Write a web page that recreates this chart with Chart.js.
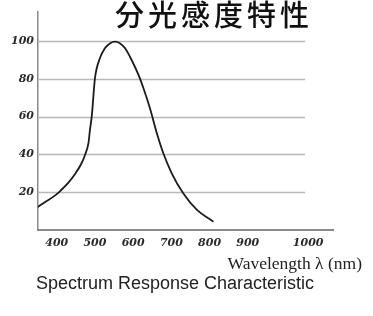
<!DOCTYPE html>
<html>
<head>
<meta charset="utf-8">
<script src="https://cdn.jsdelivr.net/npm/chart.js@4"></script>
<style>
    html, body { margin: 0; padding: 0; background: #fff; }
    #wrap { position: relative; width: 373px; height: 316px; overflow: hidden; }
    #chart { position: absolute; left: 0; top: 0; }
    .title-jp {
        position: absolute; left: 115px; top: -1px; white-space: nowrap;
        font-family: "Noto Sans CJK JP", sans-serif; font-weight: 500;
        font-size: 29px; line-height: 29px; letter-spacing: 4px; color: #111;
    }
    .x-label {
        position: absolute; right: 11px; top: 255px; white-space: nowrap;
        font-family: "Liberation Serif", serif; font-size: 17.5px; line-height: 17px; color: #222;
    }
    .caption {
        position: absolute; left: 36px; top: 274px; white-space: nowrap;
        font-family: "Liberation Sans", sans-serif; font-size: 18px; line-height: 18px; color: #222;
    }
</style>
</head>
<body>
<div id="wrap">
    <canvas id="chart" width="373" height="316"></canvas>
    <div class="title-jp">分光感度特性</div>
    <div class="x-label">Wavelength λ (nm)</div>
    <div class="caption">Spectrum Response Characteristic</div>
</div>
<script>
// wavelength (nm) / relative response (%)
const wavelengths = [349, 369, 396, 409, 430, 448, 465, 474, 483, 487, 492, 500, 513, 526, 540, 553, 565, 579, 596, 614, 627, 644, 662, 679, 701, 731, 767, 810];
const response    = [12.0, 14.7, 18.3, 20.6, 24.9, 29.6, 35.3, 39.7, 45.9, 52.9, 60.8, 80.2, 90.8, 96.1, 98.8, 99.6, 98.8, 96.1, 89.9, 82, 75, 64.4, 51.2, 40.6, 30, 19.4, 10.6, 4.4];

// the original places "1000" off the regular spacing
const xTickValues = [400, 500, 600, 700, 800, 900, 1058];
const xTickLabels = ['400', '500', '600', '700', '800', '900', '1000'];
const yTickValues = [20, 40, 60, 80, 100];

const tickFont = { family: '"DejaVu Serif", serif', size: 11, style: 'italic', weight: 'bold' };

// horizontal grid lines stop short of the x axis end
const gridPlugin = {
    id: 'shortGrid',
    beforeDatasetsDraw(chart) {
        const { ctx, scales: { x, y } } = chart;
        const x0 = chart.chartArea.left;
        const x1 = x.getPixelForValue(1050);
        ctx.save();
        ctx.strokeStyle = '#b9b9b9';
        ctx.lineWidth = 1.5;
        yTickValues.forEach(v => {
            const py = Math.round(y.getPixelForValue(v)) + 0.5;
            ctx.beginPath();
            ctx.moveTo(x0, py);
            ctx.lineTo(x1, py);
            ctx.stroke();
        });
        ctx.restore();
    }
};

new Chart(document.getElementById('chart'), {
    type: 'line',
    data: {
        datasets: [{
            data: wavelengths.map((w, i) => ({ x: w, y: response[i] })),
            borderColor: '#1b1b1b',
            borderWidth: 1.8,
            pointRadius: 0,
            fill: false,
            cubicInterpolationMode: 'monotone'
        }]
    },
    options: {
        responsive: false,
        animation: false,
        layout: { padding: { top: 12, right: 40, left: 0, bottom: 0 } },
        plugins: {
            legend: { display: false },
            tooltip: { enabled: false }
        },
        scales: {
            x: {
                type: 'linear',
                min: 351,
                max: 1123,
                grid: { display: false, drawTicks: false },
                border: { display: true, color: '#8a8a8a', width: 2 },
                afterBuildTicks: s => { s.ticks = xTickValues.map(v => ({ value: v })); },
                afterFit: s => { s.height = 86; },
                ticks: {
                    autoSkip: false,
                    maxRotation: 0,
                    padding: 7,
                    color: '#2a2a2a',
                    font: tickFont,
                    callback: (v, i) => xTickLabels[i]
                }
            },
            y: {
                min: 0,
                max: 115.3,
                grid: { display: false, drawTicks: false },
                border: { display: true, color: '#8a8a8a', width: 1.5 },
                afterBuildTicks: s => { s.ticks = yTickValues.map(v => ({ value: v })); },
                afterFit: s => { s.width = 38; },
                ticks: {
                    padding: 4,
                    color: '#2a2a2a',
                    font: tickFont
                }
            }
        }
    },
    plugins: [gridPlugin]
});
</script>
</body>
</html>
